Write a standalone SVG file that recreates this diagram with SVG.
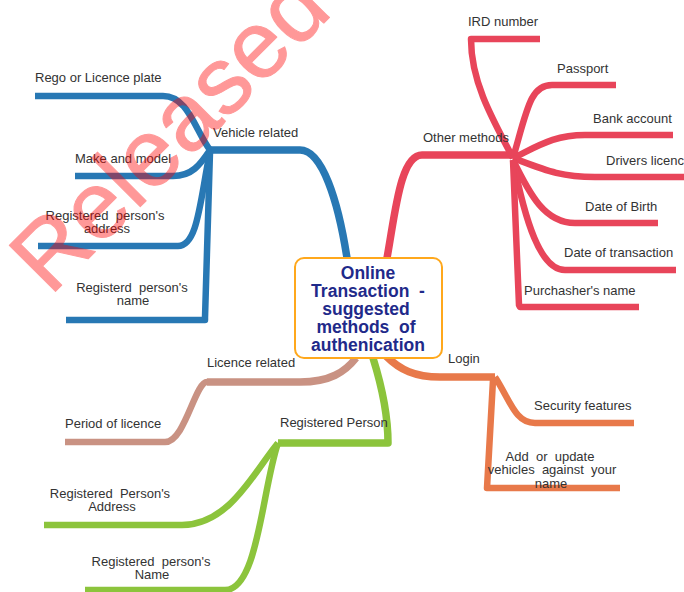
<svg xmlns="http://www.w3.org/2000/svg" width="684" height="592" viewBox="0 0 684 592">
<style>
.c{fill:none;stroke-linecap:butt;stroke-linejoin:round}
.m{stroke-width:7.5}
.k{stroke-width:6.5}
.blue{stroke:#2878b4}
.red{stroke:#e8455a}
.org{stroke:#e8794a}
.brn{stroke:#c99283}
.grn{stroke:#8cc43c}
.t{font-family:"Liberation Sans",Arial,sans-serif;font-size:13px;fill:#333}
.ct{font-family:"Liberation Sans",Arial,sans-serif;font-size:17.5px;font-weight:bold;fill:#1f2a8a;text-anchor:middle}
.mid{text-anchor:middle}
</style>
<rect width="684" height="592" fill="#fff"/>
<g id="connectors">
<path class="c m blue" d="M347,258 C338,200 322,150 300,150 L210,150"/>
<path class="c k blue" d="M210,150 C195,130 188,96 163,96 L35,96"/>
<path class="c k blue" d="M210,150 C200,165 192,176 173,176 L75,176"/>
<path class="c k blue" d="M210,152 C200,200 198,246 178,246 L38,246"/>
<path class="c k blue" d="M210,152 L205,318 L205,320 L66,320"/>
<path class="c m red" d="M387,258 C395,215 400,155 422,155 L513,155"/>
<path class="c k red" d="M513,158 C490,115 471,80 471,39 L540,39"/>
<path class="c k red" d="M513,158 C527,110 530,85 552,85 L616,85"/>
<path class="c k red" d="M513,158 C540,145 555,135 585,135 L673,135"/>
<path class="c k red" d="M513,158 C545,170 560,177 595,177 L684,177"/>
<path class="c k red" d="M513,160 C530,195 545,223 575,223 L658,223"/>
<path class="c k red" d="M513,160 C525,220 540,270 565,270 L676,270"/>
<path class="c k red" d="M513,160 L519,305 L520,307 L639,307"/>
<path class="c m org" d="M386,356 C400,370 415,377 440,377 L495,377"/>
<path class="c k org" d="M495,377 C510,400 515,423 535,423 L634,423"/>
<path class="c k org" d="M493,380 L487,488 L620,488"/>
<path class="c m brn" d="M356,358 C345,372 330,382 300,382 L207,382"/>
<path class="c k brn" d="M207,382 C195,382 185,442 165,442 L65,442"/>
<path class="c m grn" d="M373,358 C383,390 388,415 388,443 L278,443"/>
<path class="c k grn" d="M278,443 C255,470 230,525 182,525 L44,525"/>
<path class="c k grn" d="M278,443 C262,490 258,590 225,590 L85,590"/>
</g>
<g id="center">
<rect x="295" y="258" width="147" height="100" rx="9" fill="#fff" stroke="#ffa81c" stroke-width="2"/>
<text class="ct" x="368" y="279">Online</text>
<text class="ct" x="368" y="297" xml:space="preserve">Transaction  -</text>
<text class="ct" x="366" y="315">suggested</text>
<text class="ct" x="366" y="333" xml:space="preserve">methods  of</text>
<text class="ct" x="368" y="351">authenication</text>
</g>
<g id="vehicle"><text class="t" x="213" y="137">Vehicle related</text></g>
<g id="rego"><text class="t" x="35" y="82">Rego or Licence plate</text></g>
<g id="make"><text class="t" x="75" y="163">Make and model</text></g>
<g id="address"><text class="t mid" x="105" y="220" xml:space="preserve">Registered  person's</text><text class="t mid" x="107" y="233">address</text></g>
<g id="name"><text class="t mid" x="132" y="292" xml:space="preserve">Registerd  person's</text><text class="t mid" x="133" y="305">name</text></g>
<g id="other"><text class="t" x="423" y="142">Other methods</text></g>
<g id="ird"><text class="t" x="468" y="26">IRD number</text></g>
<g id="passport"><text class="t" x="557" y="73">Passport</text></g>
<g id="bank"><text class="t" x="593" y="123">Bank account</text></g>
<g id="drivers"><text class="t" x="606" y="165">Drivers licence</text></g>
<g id="dob"><text class="t" x="585" y="211">Date of Birth</text></g>
<g id="dot"><text class="t" x="564" y="257">Date of transaction</text></g>
<g id="purch"><text class="t" x="524" y="295">Purchasher's name</text></g>
<g id="login"><text class="t" x="448" y="363">Login</text></g>
<g id="security"><text class="t" x="534" y="410">Security features</text></g>
<g id="addupdate"><text class="t mid" x="550" y="461" xml:space="preserve">Add  or  update</text><text class="t mid" x="552" y="474" xml:space="preserve">vehicles  against  your</text><text class="t mid" x="551" y="488">name</text></g>
<g id="licence"><text class="t" x="207" y="367">Licence related</text></g>
<g id="period"><text class="t" x="65" y="428">Period of licence</text></g>
<g id="regperson"><text class="t" x="280" y="427">Registered Person</text></g>
<g id="rpaddress"><text class="t mid" x="110" y="498" xml:space="preserve">Registered  Person's</text><text class="t mid" x="112" y="511">Address</text></g>
<g id="rpname"><text class="t mid" x="151" y="566" xml:space="preserve">Registered  person's</text><text class="t mid" x="152" y="579">Name</text></g>
<g opacity="0.4"><text x="50" y="297" transform="rotate(-45 50 297)" font-family="Liberation Sans,Arial,sans-serif" font-size="95" fill="#ff0000" stroke="#ff0000" stroke-width="1" stroke-linejoin="round">Released</text></g>
</svg>
